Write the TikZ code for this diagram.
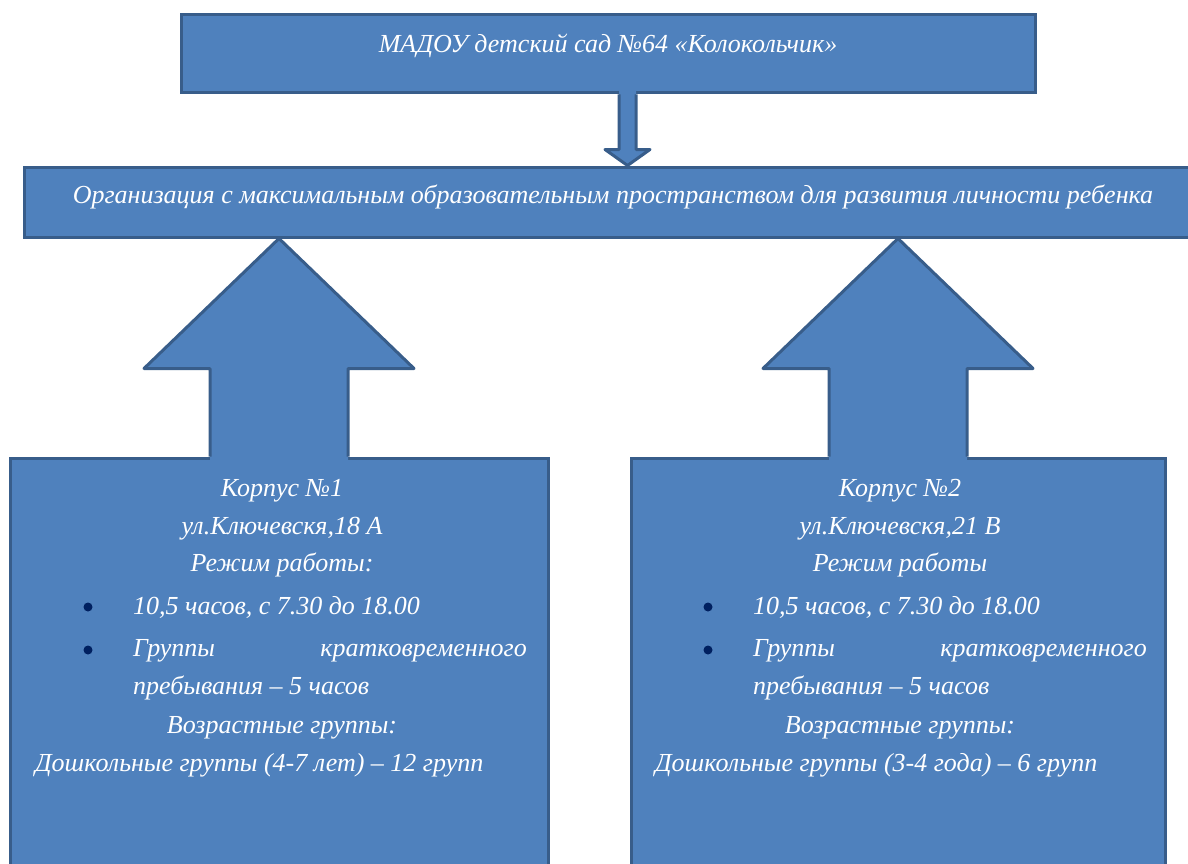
\documentclass[tikz,border=0pt]{standalone}
\usepackage{fontspec}
\setmainfont{Liberation Serif}
\usetikzlibrary{calc}
\definecolor{boxfill}{HTML}{4F81BD}
\definecolor{boxline}{HTML}{385D8A}
\definecolor{dotcol}{HTML}{002060}
\tikzset{
  blk/.style={draw=boxline, fill=boxfill, line width=3pt, inner sep=0pt},
  arr/.style={draw=boxline, line width=3pt, line join=round},
  txt/.style={text=white, font=\fontsize{26}{30}\selectfont\itshape, inner sep=0pt, text height=18pt, text depth=6pt},
  bulletdot/.style={circle, fill=dotcol, minimum size=9pt, inner sep=0pt},
}
\begin{document}
\begin{tikzpicture}[x=1pt, y=-1pt]
\useasboundingbox (0,0) rectangle (1188,864);
% блоки
\node[blk, minimum width=854pt, minimum height=78pt] (sad) at (608, 54) {};
\node[blk, minimum width=1176pt, minimum height=70pt] (org) at (612, 202) {};
\node[blk, minimum width=538pt, minimum height=430pt] (k1) at (279, 673) {};
\node[blk, minimum width=534pt, minimum height=430pt] (k2) at (898, 673) {};
% стрелка вниз
\coordinate (dn) at ($(sad.south)+(19.5,0)$);
\fill[boxfill] ($(dn)+(-8.5,-4)$) -- ++(0,59) -- ++(-14,0) -- (dn |- org.north) -- ($(dn)+(22.5,55)$) -- ++(-14,0) -- ++(0,-59) -- cycle;
\draw[arr] ($(dn)+(-8.5,0)$) -- ++(0,55) -- ++(-14,0) -- (dn |- org.north) -- ($(dn)+(22.5,55)$) -- ++(-14,0) -- ++(0,-55);
% стрелки вверх
\foreach \k in {k1, k2} {
  \fill[boxfill] ($(\k.north)+(-69,4)$) -- ++(0,-92) -- ++(-66,0) -- (\k.north |- org.south) -- ($(\k.north)+(135,-88)$) -- ++(-66,0) -- ++(0,92) -- cycle;
  \draw[arr] ($(\k.north)+(-69,0)$) -- ++(0,-88) -- ++(-66,0) -- (\k.north |- org.south) -- ($(\k.north)+(135,-88)$) -- ++(-66,0) -- ++(0,88);
}
% текст
\node[txt] (sadt) at (608, 47) {МАДОУ детский сад №64 «Колокольчик»};
\node[txt] (orgt) at (613, 197) {Организация с максимальным образовательным пространством для развития личности ребенка};
% корпус 1
\node[txt] (k1a) at (282, 490) {Корпус №1};
\node[txt] (k1b) at (282, 528) {ул.Ключевскя,18 А};
\node[txt] (k1c) at (282, 565) {Режим работы:};
\node[bulletdot] (k1d1) at (88, 607) {};
\node[txt, anchor=west] (k1d) at (133, 608) {10,5 часов, с 7.30 до 18.00};
\node[bulletdot] (k1e1) at (88, 650) {};
\node[txt, anchor=west] (k1e) at (133, 650) {Группы};
\node[txt, anchor=east] (k1f) at (527, 650) {кратковременного};
\node[txt, anchor=west] (k1g) at (133, 688) {пребывания – 5 часов};
\node[txt] (k1h) at (282, 727) {Возрастные группы:};
\node[txt, anchor=west] (k1i) at (35, 765) {Дошкольные группы (4-7 лет) – 12 групп};
% корпус 2
\node[txt] (k2a) at (900, 490) {Корпус №2};
\node[txt] (k2b) at (900, 528) {ул.Ключевскя,21 В};
\node[txt] (k2c) at (900, 565) {Режим работы};
\node[bulletdot] (k2d1) at (708, 607) {};
\node[txt, anchor=west] (k2d) at (753, 608) {10,5 часов, с 7.30 до 18.00};
\node[bulletdot] (k2e1) at (708, 650) {};
\node[txt, anchor=west] (k2e) at (753, 650) {Группы};
\node[txt, anchor=east] (k2f) at (1147, 650) {кратковременного};
\node[txt, anchor=west] (k2g) at (753, 688) {пребывания – 5 часов};
\node[txt] (k2h) at (900, 727) {Возрастные группы:};
\node[txt, anchor=west] (k2i) at (655, 765) {Дошкольные группы (3-4 года) – 6 групп};
\end{tikzpicture}
\end{document}
